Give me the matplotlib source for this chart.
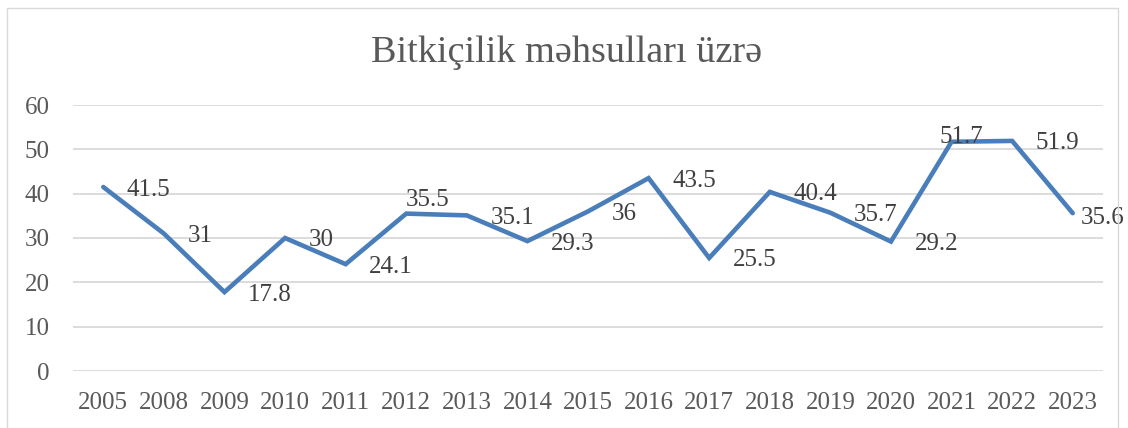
import matplotlib
matplotlib.use("Agg")
import matplotlib.pyplot as plt
from matplotlib import patches

# data
years = ["2005", "2008", "2009", "2010", "2011", "2012", "2013", "2014", "2015",
         "2016", "2017", "2018", "2019", "2020", "2021", "2022", "2023"]
values = [41.5, 31, 17.8, 30, 24.1, 35.5, 35.1, 29.3, 36,
          43.5, 25.5, 40.4, 35.7, 29.2, 51.7, 51.9, 35.6]
title = "Bitkiçilik məhsulları üzrə"

plt.rcParams['font.family'] = ['Liberation Serif', 'DejaVu Serif']

W, H = 1128, 428
fig = plt.figure(figsize=(W / 100, H / 100), dpi=100)
ax = fig.add_axes([73 / W, (H - 371) / H, (1103 - 73) / W, (371 - 105) / H])

# outer chart frame
fig.patches.append(patches.Rectangle((7 / W, -0.05), (1118 - 7) / W, 1.05 - 8 / H,
                                     transform=fig.transFigure, fill=False,
                                     edgecolor='#d9d9d9', linewidth=1.0))

x = list(range(len(years)))
ax.plot(x, values, color='#4a7ebb', linewidth=3.3, solid_joinstyle='miter',
        solid_capstyle='round', zorder=3)

# labels sit right of the point; a few were nudged to avoid overlap
nudge = {5: (0, 11.5, 'left'), 14: (7, 5, 'center'), 16: (6, -1.5, 'left')}
for xi, v in zip(x, values):
    dx, dy, ha = nudge.get(xi, (17, 0, 'left'))
    ax.annotate(f"{v:g}", (xi, v), xytext=(dx, dy), textcoords='offset points',
                ha=ha, va='center_baseline', fontsize=18, color='#404040',
                zorder=4, annotation_clip=False)

ax.set_xlim(-0.5, len(years) - 0.5)
ax.set_ylim(0, 60)
ax.set_yticks(range(0, 61, 10))
ax.set_xticks(x)
ax.set_xticklabels(years)
ax.yaxis.grid(True, color='#d9d9d9', linewidth=1.3)
ax.set_axisbelow(True)
for s in ax.spines.values():
    s.set_visible(False)
ax.tick_params(axis='both', length=0, labelsize=18, labelcolor='#595959')
ax.tick_params(axis='x', pad=15)
ax.tick_params(axis='y', pad=17)

fig.text(567 / W, 1 - 53 / H, title, ha='center', va='center',
         fontsize=27.5, color='#595959')

fig.savefig("out.png", dpi=100)
